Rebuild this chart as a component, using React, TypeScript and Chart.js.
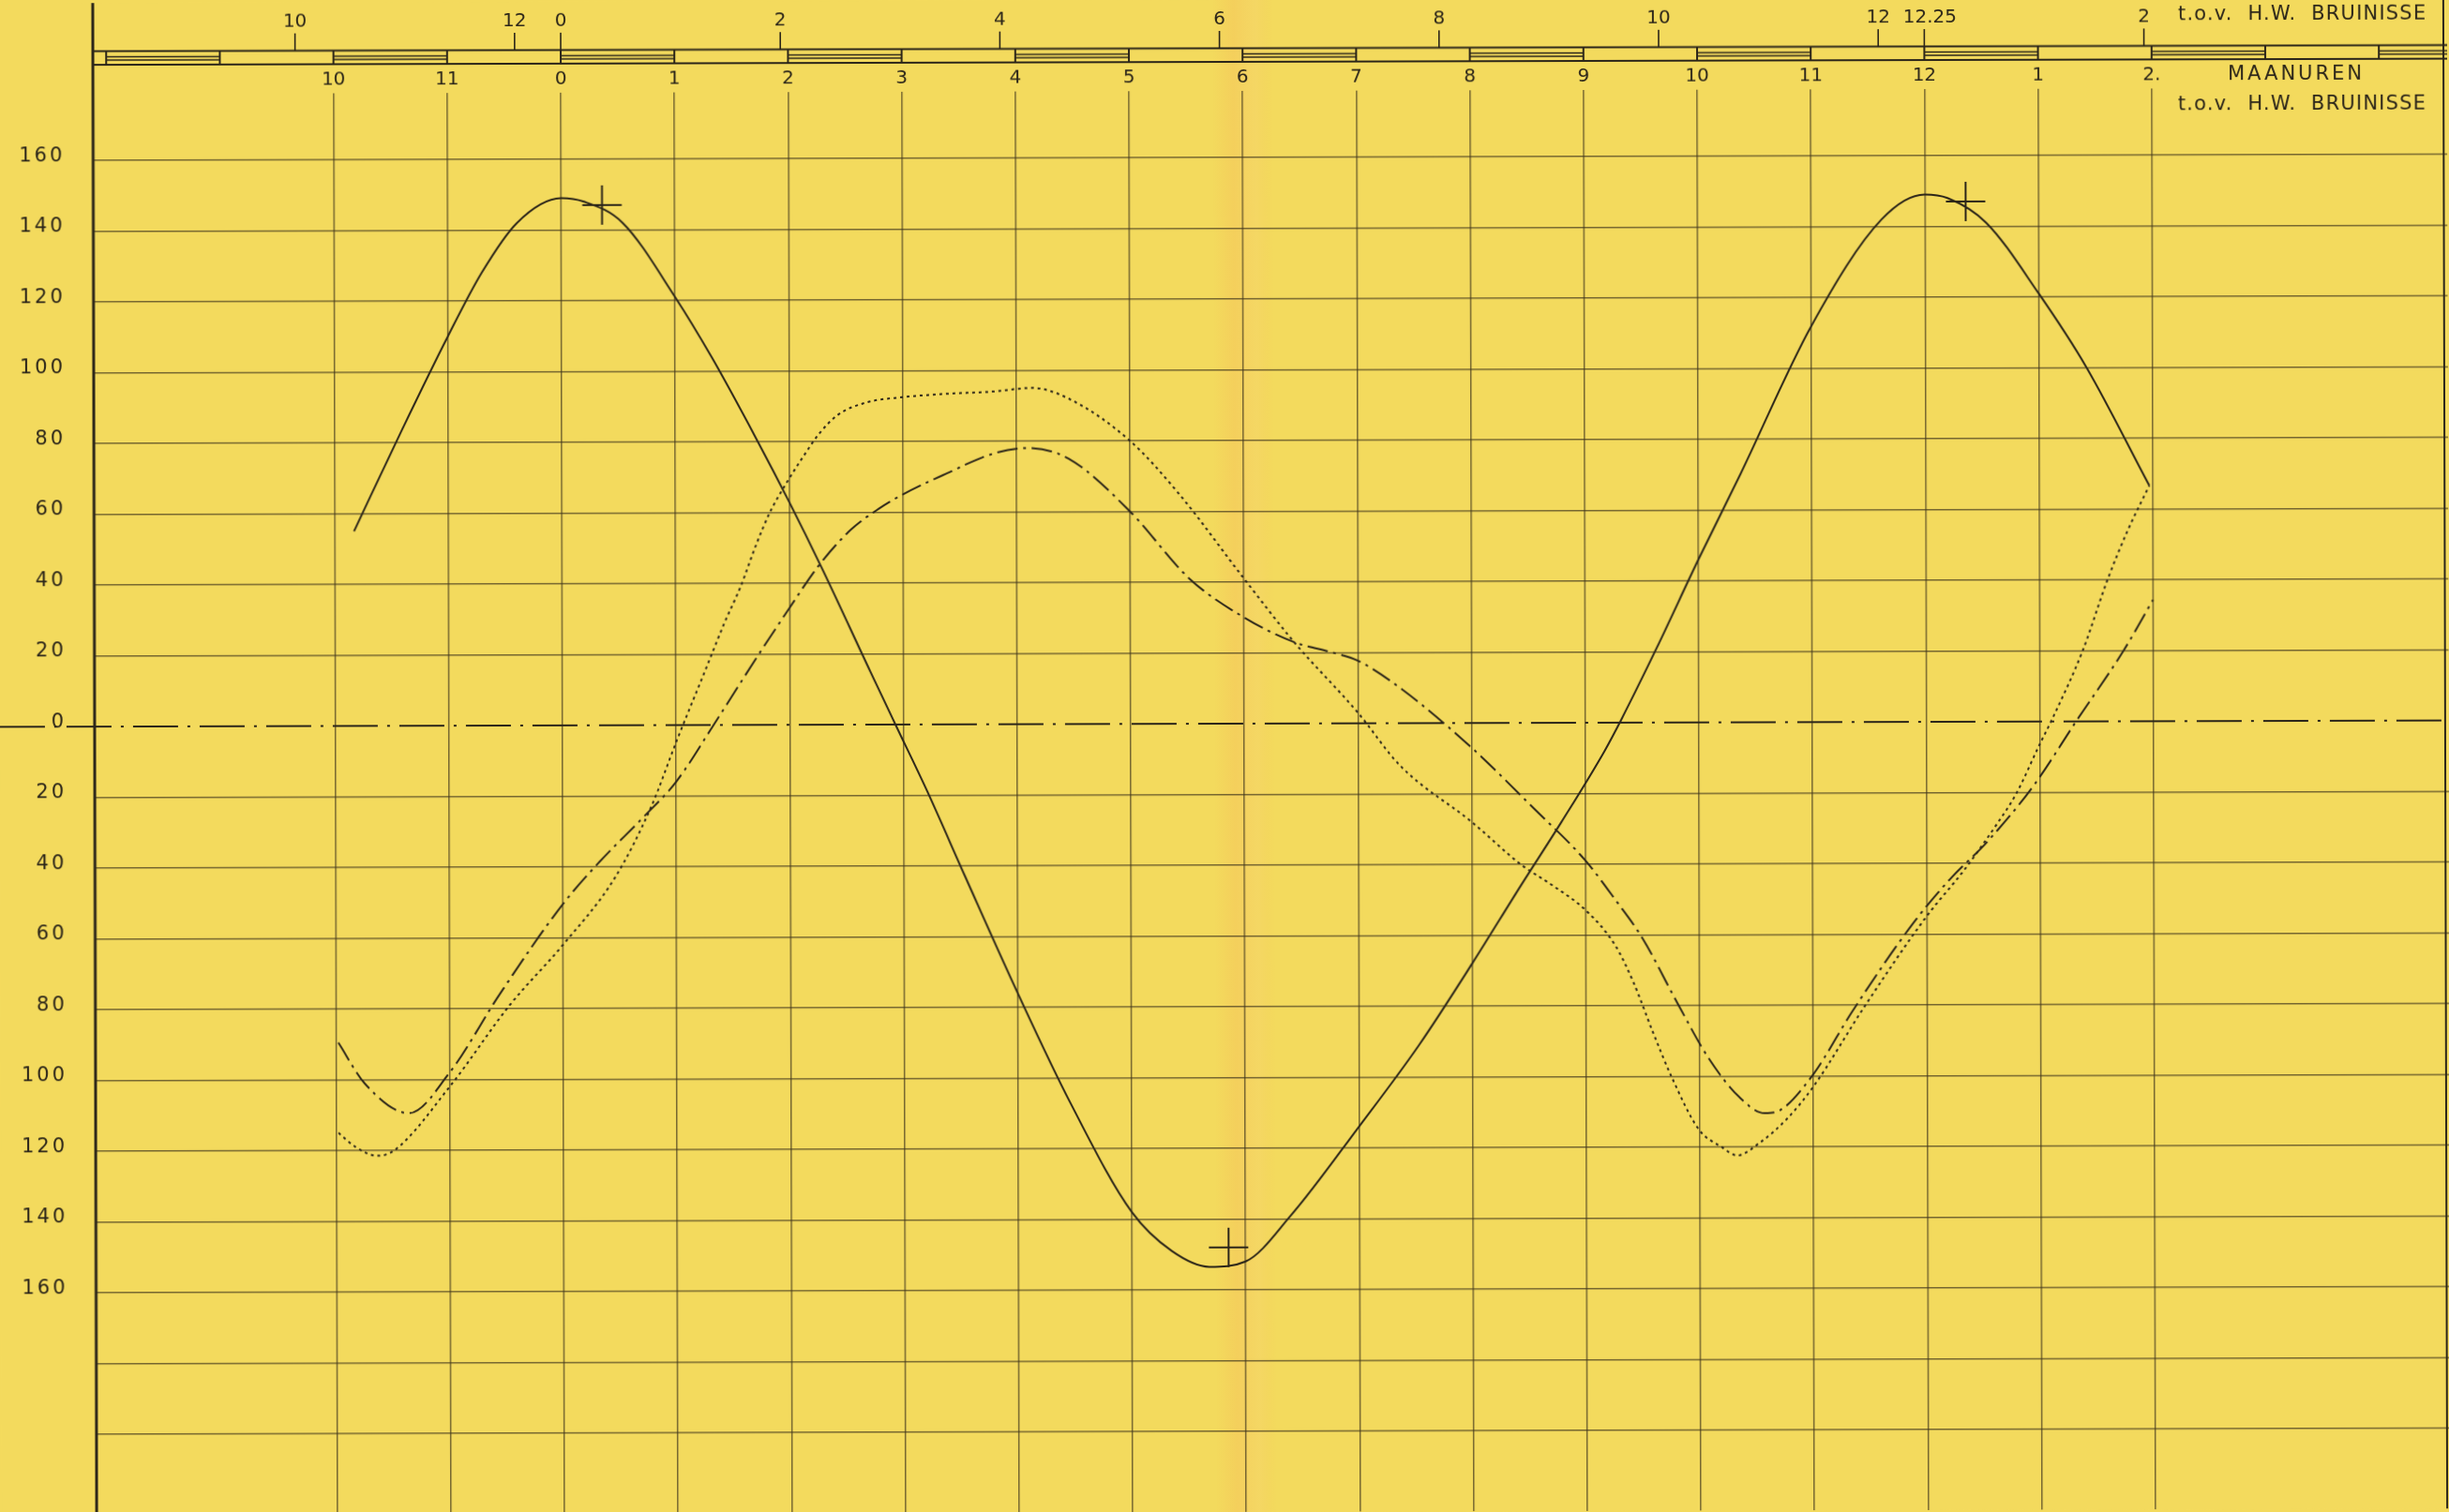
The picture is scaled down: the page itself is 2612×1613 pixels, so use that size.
import React, { useEffect, useRef } from 'react';
import { Chart, registerables } from 'chart.js';

Chart.register(...registerables);

const W = 2612;
const H = 1613;

// ---- data (x = moon hours relative to H.W. Bruinisse, y = cm / cm·s) ----
const solidHours = [-1.83, -1.4, -1.0, -0.7, -0.39, 0, 0.2, 0.54, 1.0, 1.32, 1.71, 2.0, 2.29, 2.71, 2.93, 3.21, 3.54, 4.0, 4.46, 5.0, 5.35, 5.68, 6.0, 6.4, 7.0, 7.53, 8.0, 8.43, 8.79, 9.17, 9.32, 9.63, 10.0, 10.37, 11.0, 11.62, 12.0, 12.2, 12.54, 13.0, 13.42, 13.97];
const solidValues = [55, 84, 110, 128, 142, 149, 148, 142, 121, 104, 81, 63, 44, 15, 0, -19, -43, -76, -107, -138, -149, -153.5, -152, -139, -114, -91, -68, -46, -28, -8, 1, 21, 46, 70, 112, 142, 149, 148, 141, 121, 100, 66.6];

const dottedHours = [-1.98, -1.83, -1.64, -1.49, -1.0, -0.47, 0, 0.46, 0.78, 1.01, 1.26, 1.43, 1.57, 1.71, 1.83, 1.99, 2.13, 2.26, 2.43, 2.68, 3.0, 3.38, 3.79, 4.14, 4.46, 5.0, 5.43, 6.0, 6.44, 7.0, 7.37, 8.0, 8.43, 8.71, 9.0, 9.26, 9.42, 9.59, 9.75, 9.99, 10.19, 10.33, 10.52, 10.77, 11.0, 11.45, 12.0, 12.33, 12.62, 12.79, 13.0, 13.11, 13.38, 13.6, 13.78, 13.97];
const dottedValues = [-115, -119, -121.5, -120, -102, -79, -62, -43, -23, -4, 15.6, 29, 39, 51, 60, 69, 76, 82, 87.5, 91, 92.5, 93.4, 94, 95, 92, 80, 65, 41, 23, 3, -12, -28, -40, -46, -53, -63, -73.5, -87.6, -100, -115, -120, -122.4, -119, -112, -103, -80.5, -55, -42, -29, -20.5, -6.4, 0.7, 20, 40, 54, 66.6];

const dashHours = [-1.98, -1.75, -1.36, -1.0, -0.56, 0, 0.32, 0.71, 1.0, 1.33, 1.71, 1.99, 2.26, 2.54, 2.79, 3.0, 3.38, 3.79, 4.1, 4.46, 5.0, 5.52, 6.0, 6.44, 6.78, 7.0, 7.37, 8.0, 8.54, 9.0, 9.26, 9.5, 9.8, 10.08, 10.35, 10.57, 10.71, 11.0, 11.34, 11.88, 12.21, 12.54, 12.95, 13.32, 13.74, 14.0];
const dashValues = [-89.5, -101, -109.5, -98, -76, -50.5, -38.7, -26, -16, 0, 19, 32.5, 45, 55, 61, 65, 70.8, 76.4, 78, 75, 60, 41, 30, 23, 20, 17.7, 10, -7, -24, -39, -50, -61, -79, -95, -106, -110.5, -109.6, -99.5, -82, -57, -44.4, -33.8, -17.9, 0, 20, 34.3];

const markerHours = [0.36, 5.85, 12.36];
const markerValues = [147, -148, 147];

// ---- axes / tick labels ----
const gridHours = [-2, -1, 0, 1, 2, 3, 4, 5, 6, 7, 8, 9, 10, 11, 12, 13, 14];
const lowerHourLabels = ['10', '11', '0', '1', '2', '3', '4', '5', '6', '7', '8', '9', '10', '11', '12', '1', '2.'];
const upperSolarHours = [-2.42, -0.42, 0, 2, 4, 6, 8, 10, 12, 12.42, 14.42];
const upperHourLabels = ['10', '12', '0', '2', '4', '6', '8', '10', '12', '12.25', '2'];
const bandHours = [-4, -3, -2, -1, 0, 1, 2, 3, 4, 5, 6, 7, 8, 9, 10, 11, 12, 13, 14, 15, 16, 17];
const bandFilledStarts = [-4, -2, 0, 2, 4, 6, 8, 10, 12, 14, 16];
const yGridValues = [-200, -180, -160, -140, -120, -100, -80, -60, -40, -20, 0, 20, 40, 60, 80, 100, 120, 140, 160];
const yLabelValues = [-160, -140, -120, -100, -80, -60, -40, -20, 0, 20, 40, 60, 80, 100, 120, 140, 160];
const SOLAR_TO_MOON = 12 / 12.42;

const INK = '#2b2519';
const GRID = 'rgba(62,52,28,0.7)';
const PAPER = '#f3da5d';

const toPoints = (xs: number[], ys: number[]) => xs.map((x, i) => ({ x, y: ys[i] }));

const paperPlugin = {
  id: 'paper',
  beforeDraw(chart: any) {
    const ctx = chart.ctx;
    ctx.save();
    ctx.fillStyle = PAPER;
    ctx.fillRect(0, 0, W, H);
    const g = ctx.createLinearGradient(1295, 0, 1360, 0);
    g.addColorStop(0, 'rgba(245,190,85,0)');
    g.addColorStop(0.35, 'rgba(246,190,90,0.38)');
    g.addColorStop(0.72, 'rgba(248,208,115,0.3)');
    g.addColorStop(1, 'rgba(245,190,85,0)');
    ctx.fillStyle = g;
    ctx.fillRect(1295, 0, 65, H);
    ctx.restore();
  },
};

const framePlugin = {
  id: 'frame',
  afterDraw(chart: any) {
    const ctx = chart.ctx;
    const xs = chart.scales.x;
    const ys = chart.scales.y;
    const X = (h: number) => xs.getPixelForValue(h);
    const Y = (v: number) => ys.getPixelForValue(v);
    const left = chart.chartArea.left;
    const line = (x1: number, y1: number, x2: number, y2: number) => {
      ctx.beginPath();
      ctx.moveTo(x1, y1);
      ctx.lineTo(x2, y2);
      ctx.stroke();
    };
    ctx.save();
    ctx.strokeStyle = INK;
    ctx.fillStyle = INK;

    // zero line (dash-dot) across the whole sheet
    ctx.lineWidth = 2;
    ctx.setLineDash([48, 10, 3, 10]);
    line(0, Y(0), W, Y(0));
    ctx.setLineDash([]);

    // left axis line and right border
    ctx.lineWidth = 3;
    line(left - 1, -10, left - 1, H + 10);
    ctx.lineWidth = 2;
    line(W - 4, -10, W - 4, H + 10);

    // scale band at top
    const bandTop = 51.5;
    const bandBot = 66;
    ctx.lineWidth = 2;
    line(left, bandTop, W, bandTop);
    line(left, bandBot, W, bandBot);
    bandHours.forEach((h) => {
      const x = X(h);
      if (x > left + 4 && x < W) line(x, bandTop, x, bandBot);
    });
    ctx.lineWidth = 1.6;
    bandFilledStarts.forEach((h) => {
      const x1 = Math.max(X(h), left);
      const x2 = Math.min(X(h + 1), W);
      if (x2 > x1) {
        line(x1, 57.5, x2, 57.5);
        line(x1, 61, x2, 61);
      }
    });

    // upper (solar hour) ticks and labels
    ctx.lineWidth = 1.6;
    ctx.font = '20px "DejaVu Sans", sans-serif';
    ctx.textAlign = 'center';
    ctx.textBaseline = 'middle';
    upperSolarHours.forEach((s, i) => {
      const x = X(s * SOLAR_TO_MOON);
      line(x, 33, x, bandTop);
      const label = upperHourLabels[i];
      const dx = label.length > 2 ? 6 : 0;
      ctx.fillText(label, x + dx, 21);
    });
    ctx.font = '21px "DejaVu Sans", sans-serif';
    ctx.textAlign = 'left';
    (ctx as any).letterSpacing = '1.2px';
    ctx.fillText('t.o.v.  H.W.  BRUINISSE', 2325, 19);

    // lower (moon hour) labels
    ctx.font = '20px "DejaVu Sans", sans-serif';
    (ctx as any).letterSpacing = '0px';
    ctx.textAlign = 'center';
    gridHours.forEach((h, i) => {
      ctx.fillText(lowerHourLabels[i], X(h), 83);
    });
    ctx.font = '21px "DejaVu Sans", sans-serif';
    (ctx as any).letterSpacing = '3px';
    ctx.fillText('MAANUREN', 2451, 83);
    (ctx as any).letterSpacing = '1.2px';
    ctx.textAlign = 'right';
    ctx.fillText('t.o.v.  H.W.  BRUINISSE', 2590, 115);

    // y labels
    ctx.font = '21px "DejaVu Sans", sans-serif';
    (ctx as any).letterSpacing = '3px';
    ctx.textAlign = 'right';
    ctx.textBaseline = 'alphabetic';
    yLabelValues.forEach((v) => {
      ctx.fillText(String(Math.abs(v)), 71, Y(v) + 1);
    });
    ctx.restore();
  },
};

export default function App() {
  const ref = useRef<HTMLCanvasElement | null>(null);

  useEffect(() => {
    document.body.style.margin = '0';
    document.body.style.overflow = 'hidden';
    document.body.style.background = PAPER;
    const canvas = ref.current;
    if (!canvas) return;
    const chart = new Chart(canvas, {
      type: 'line',
      data: {
        datasets: [
          {
            data: toPoints(solidHours, solidValues),
            borderColor: INK,
            borderWidth: 2,
            pointRadius: 0,
            cubicInterpolationMode: 'monotone',
            fill: false,
          },
          {
            data: toPoints(dottedHours, dottedValues),
            borderColor: INK,
            borderWidth: 2,
            borderDash: [3, 4],
            pointRadius: 0,
            cubicInterpolationMode: 'monotone',
            fill: false,
          },
          {
            data: toPoints(dashHours, dashValues),
            borderColor: INK,
            borderWidth: 2,
            borderDash: [22, 6, 3, 6],
            pointRadius: 0,
            cubicInterpolationMode: 'monotone',
            fill: false,
          },
          {
            data: toPoints(markerHours, markerValues),
            showLine: false,
            pointStyle: 'cross',
            pointRadius: 21,
            pointBorderWidth: 2,
            pointBorderColor: INK,
            borderColor: INK,
          },
        ],
      } as any,
      options: {
        responsive: false,
        animation: false,
        events: [],
        layout: { autoPadding: false, padding: { left: 102, top: 97, right: 0, bottom: 0 } },
        plugins: {
          legend: { display: false },
          tooltip: { enabled: false },
          title: { display: false },
        },
        scales: {
          x: {
            type: 'linear',
            min: -4.109,
            max: 16.601,
            afterBuildTicks: (axis: any) => {
              axis.ticks = gridHours.map((v) => ({ value: v }));
            },
            ticks: { display: false },
            grid: { color: GRID, lineWidth: 1.5, drawTicks: false },
            border: { display: false },
          },
          y: {
            type: 'linear',
            min: -222.8,
            max: 178.8,
            afterBuildTicks: (axis: any) => {
              axis.ticks = yGridValues.map((v) => ({ value: v }));
            },
            ticks: { display: false },
            grid: {
              color: (c: any) => (c.tick && c.tick.value === 0 ? 'rgba(0,0,0,0)' : GRID),
              lineWidth: 1.5,
              drawTicks: false,
            },
            border: { display: false },
          },
        },
      } as any,
      plugins: [paperPlugin, framePlugin],
    });
    return () => chart.destroy();
  }, []);

  return (
    <canvas
      ref={ref}
      width={W}
      height={H}
      style={{ display: 'block', width: `${W}px`, height: `${H}px`, transform: 'rotate(-0.15deg)' }}
    />
  );
}
